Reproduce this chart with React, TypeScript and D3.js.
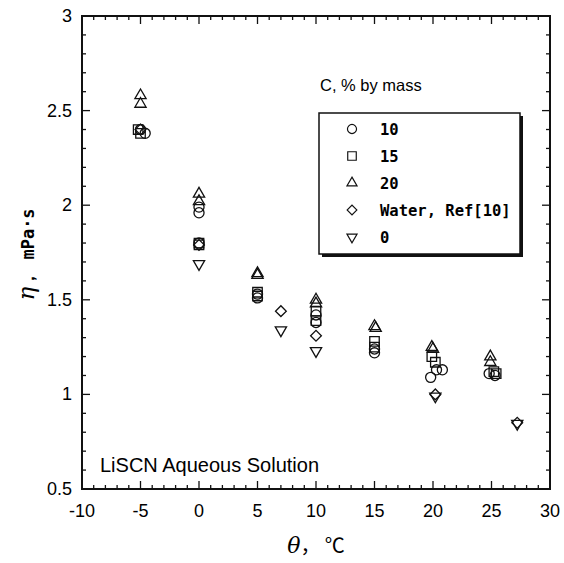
import React, { useEffect, useRef } from 'react';
import * as d3 from 'd3';

// data: [temperature °C, viscosity mPa·s]
const c10 = [[-4.6, 2.38], [-5, 2.40], [0, 1.99], [0, 1.96], [0, 1.80], [5, 1.53], [5, 1.51], [10, 1.42], [10, 1.38], [15, 1.24], [15, 1.22], [19.8, 1.09], [20.3, 1.13], [20.8, 1.13], [24.8, 1.11], [25.3, 1.10]];
const c15 = [[-5.2, 2.40], [-5, 2.38], [0, 1.80], [0, 1.79], [5, 1.54], [5, 1.52], [10, 1.44], [10, 1.39], [15, 1.28], [15, 1.25], [19.9, 1.20], [20.2, 1.17], [25.2, 1.12], [25.4, 1.11]];
const c20 = [[-5, 2.58], [-5, 2.535], [0, 2.06], [0, 2.02], [5, 1.64], [5, 1.63], [10, 1.50], [10, 1.48], [15, 1.36], [15.1, 1.35], [19.9, 1.25], [20, 1.24], [24.9, 1.20], [24.9, 1.17]];
const water = [[-5, 2.40], [0, 1.79], [7, 1.44], [10, 1.31], [20.2, 1.00], [27.2, 0.85]];
const c0 = [[0, 1.69], [7, 1.34], [10, 1.23], [20.2, 0.99], [27.2, 0.845]];

const xTicks = [-10, -5, 0, 5, 10, 15, 20, 25, 30];
const yTicks = [0.5, 1, 1.5, 2, 2.5, 3];
const legendLabels = ['10', '15', '20', 'Water, Ref[10]', '0'];

const App = () => {
    const svgRef = useRef(null);

    useEffect(() => {
        const svg = d3.select(svgRef.current);
        svg.selectAll('*').remove();

        const width = 564;
        const height = 563;
        const left = 82, right = 550, top = 16, bottom = 489;

        svg.attr('width', width).attr('height', height);

        const x = d3.scaleLinear().domain([-10, 30]).range([left, right]);
        const y = d3.scaleLinear().domain([0.5, 3]).range([bottom, top]);

        const shapes = {
            circle: d3.symbol().type(d3.symbolCircle).size(80)(),
            square: d3.symbol().type(d3.symbolSquare).size(90)(),
            triangle: d3.symbol().type(d3.symbolTriangle).size(55)(),
            diamond: d3.symbol().type(d3.symbolSquare).size(58)(),
            down: d3.symbol().type(d3.symbolTriangle).size(55)(),
        };
        const rot = { circle: 0, square: 0, triangle: 0, diamond: 45, down: 180 };

        const series = [
            { data: c10, shape: 'circle' },
            { data: c15, shape: 'square' },
            { data: c20, shape: 'triangle' },
            { data: water, shape: 'diamond' },
            { data: c0, shape: 'down' },
        ];

        // minor + major ticks inside the frame, all four sides
        const g = svg.append('g').attr('stroke', '#111').attr('stroke-width', 1.3);
        d3.range(-10, 30.01, 1).forEach(v => {
            const major = Math.abs(v % 5) < 1e-6;
            const len = major ? 8 : 4;
            g.append('line').attr('x1', x(v)).attr('x2', x(v)).attr('y1', bottom).attr('y2', bottom - len);
            g.append('line').attr('x1', x(v)).attr('x2', x(v)).attr('y1', top).attr('y2', top + len);
        });
        d3.range(0.5, 3.001, 0.1).forEach(v => {
            const r = Math.round(v * 10) % 5;
            const len = r === 0 ? 8 : 4;
            g.append('line').attr('x1', left).attr('x2', left + len).attr('y1', y(v)).attr('y2', y(v));
            g.append('line').attr('x1', right).attr('x2', right - len).attr('y1', y(v)).attr('y2', y(v));
        });

        svg.append('rect')
            .attr('x', left).attr('y', top)
            .attr('width', right - left).attr('height', bottom - top)
            .attr('fill', 'none').attr('stroke', '#111').attr('stroke-width', 2);

        // tick labels
        svg.append('g').selectAll('text').data(xTicks).enter().append('text')
            .attr('x', d => x(d)).attr('y', bottom + 28)
            .attr('text-anchor', 'middle')
            .style('font-family', 'Liberation Sans, Arial, sans-serif').style('font-size', '18px')
            .text(d => d);
        svg.append('g').selectAll('text').data(yTicks).enter().append('text')
            .attr('x', left - 10).attr('y', d => y(d) + 6)
            .attr('text-anchor', 'end')
            .style('font-family', 'Liberation Sans, Arial, sans-serif').style('font-size', '18px')
            .text(d => d);

        // axis titles
        const xt = svg.append('text').attr('x', 316).attr('y', 553).attr('text-anchor', 'middle');
        xt.append('tspan').text('θ').style('font-family', 'DejaVu Serif, serif').style('font-style', 'italic').style('font-size', '22px');
        xt.append('tspan').text('，  ℃').style('font-family', 'Noto Sans CJK SC, sans-serif').style('font-size', '20px');

        const yt = svg.append('text').attr('transform', `translate(34,${(top + bottom) / 2 + 2}) rotate(-90)`).attr('text-anchor', 'middle');
        yt.append('tspan').text('η').style('font-family', 'DejaVu Serif, serif').style('font-style', 'italic').style('font-size', '23px');
        yt.append('tspan').text('，  mPa·s').style('font-family', 'DejaVu Sans Mono, monospace').style('font-weight', 'bold').style('font-size', '17px');

        // data markers
        series.forEach(s => {
            svg.append('g').selectAll('path').data(s.data).enter().append('path')
                .attr('d', shapes[s.shape])
                .attr('transform', d => `translate(${x(d[0])},${y(d[1])}) rotate(${rot[s.shape]})`)
                .attr('fill', 'none').attr('stroke', '#111').attr('stroke-width', 1.3);
        });

        // legend
        svg.append('text').attr('x', 320).attr('y', 91)
            .style('font-family', 'Liberation Sans, Arial, sans-serif').style('font-size', '16.5px')
            .text('C, % by mass');
        svg.append('rect').attr('x', 322).attr('y', 116).attr('width', 201).attr('height', 141).attr('fill', '#111');
        svg.append('rect').attr('x', 319).attr('y', 113).attr('width', 201).attr('height', 141)
            .attr('fill', 'white').attr('stroke', '#111').attr('stroke-width', 1.5);
        series.forEach((s, i) => {
            const ly = 129 + i * 27;
            svg.append('path').attr('d', shapes[s.shape])
                .attr('transform', `translate(352,${ly}) rotate(${rot[s.shape]}) scale(0.9)`)
                .attr('fill', 'none').attr('stroke', '#111').attr('stroke-width', 1.3);
            svg.append('text').attr('x', 380).attr('y', ly + 6)
                .style('font-family', 'DejaVu Sans Mono, monospace').style('font-weight', 'bold').style('font-size', '15.5px')
                .text(legendLabels[i]);
        });

        svg.append('text').attr('x', 100).attr('y', 472)
            .style('font-family', 'Liberation Sans, Arial, sans-serif').style('font-size', '20px')
            .text('LiSCN Aqueous Solution');
    }, []);

    return (
        <svg ref={svgRef} style={{ position: 'absolute', left: 0, top: 0, background: 'white' }}></svg>
    );
};

export default App;
